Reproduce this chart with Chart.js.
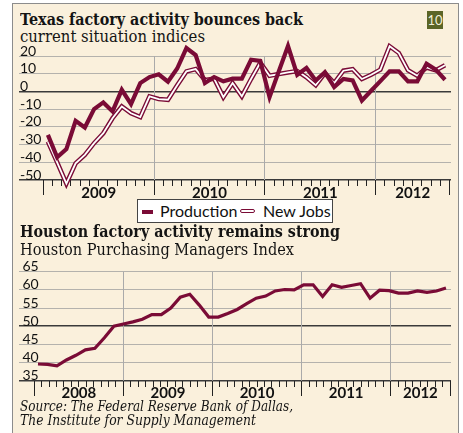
<!DOCTYPE html>
<html><head><meta charset="utf-8">
<script src="https://cdn.jsdelivr.net/npm/chart.js@4.4.1/dist/chart.umd.min.js"></script>
<style>
html,body{margin:0;padding:0;width:463px;height:433px;overflow:hidden;background:#fff;}
#panel{position:absolute;left:12px;top:3px;width:447px;height:445px;box-sizing:border-box;background:#faf0dc;border:1.5px solid #8c8c8c;}
.t{position:absolute;left:20px;white-space:nowrap;transform-origin:0 0;line-height:1;color:#141414;margin:0;}
.ttl{font-family:"DejaVu Serif";font-weight:bold;font-size:16px;}
.sub{font-family:"DejaVu Serif";font-size:16px;}
.src{font-family:"DejaVu Serif";font-style:italic;font-size:14px;}
canvas{position:absolute;left:0;}
#badge{position:absolute;left:427px;top:11px;width:16px;height:18px;background:#5b6527;color:#f3f0dc;font:13px Lato;text-align:center;line-height:18px;overflow:hidden;}
#legend{position:absolute;left:137px;top:199px;width:196px;height:24px;box-sizing:border-box;background:#fff;border:1px solid #444;font:16px Lato;color:#111;}
#legend .sym{position:absolute;}
#legend .lab{position:absolute;top:3px;line-height:16px;white-space:nowrap;}
</style></head>
<body>
<div id="panel"></div>
<div class="t ttl" style="top:11.5px" data-w="283">Texas factory activity bounces back</div>
<div class="t sub" style="top:28.5px" data-w="185">current situation indices</div>
<div id="badge">10</div>
<canvas id="c1" width="463" height="205" style="top:0"></canvas>
<div id="legend"></div>
<div class="t ttl" style="top:223.8px" data-w="320">Houston factory activity remains strong</div>
<div class="t sub" style="top:241.5px" data-w="274">Houston Purchasing Managers Index</div>
<canvas id="c2" width="463" height="193" style="top:240px"></canvas>
<div class="t src" style="top:399.2px" data-w="273">Source: The Federal Reserve Bank of Dallas,</div>
<div class="t src" style="top:412.5px" data-w="236">The Institute for Supply Management</div>
<script>
// ---- data ----
const seriesNames = ['Production', 'New Jobs'];
// Texas current situation indices, monthly Jan 2009 - Aug 2012
const production = [
  -24.5, -37.2, -32.6, -16.6, -20.4, -10.0, -6.2, -11.3, 0.9, -7.2, 4.7, 8.1,
  9.7, 5.5, 12.9, 24.5, 20.5, 4.7, 8.1, 5.7, 7.2, 7.2, 17.9, 17.2,
  -3.2, 11.3, 25.6, 9.4, 13.2, 6.2, 10.9, 2.5, 7.0, 6.2, -5.1, 0.4,
  5.8, 11.3, 11.3, 5.7, 5.7, 15.6, 12.3, 6.6
];
const newJobs = [
  -28.3, -40.0, -52.0, -40.6, -35.8, -29.2, -23.6, -15.1, -8.5, -12.3, -14.5, -2.8,
  -4.3, -4.7, 3.5, 11.3, 12.6, 6.4, 7.2, -3.2, 4.7, -2.8, 7.0, 16.2,
  8.9, 9.8, 10.7, 11.5, 8.0, 3.5, 10.4, 4.7, 11.7, 12.6, 7.0, 9.4,
  12.3, 25.5, 21.7, 11.9, 8.9, 13.5, 11.9, 14.8
];
const texasYTicks = [-50, -40, -30, -20, -10, 0, 10, 20];
const texasYears = ['2009', '2010', '2011', '2012'];
const texasMonthsPerYear = [12, 12, 12, 8];

// Houston Purchasing Managers Index (44 observations drawn across 2008 - Aug 2012)
const houstonPMI = [
  39.6, 39.5, 39.1, 40.7, 42.0, 43.5, 43.9, 46.8, 50.0, 50.6,
  51.2, 51.9, 53.2, 53.2, 55.0, 58.0, 58.8, 55.8, 52.5, 52.5,
  53.5, 54.6, 56.2, 57.7, 58.3, 59.7, 60.1, 60.0, 61.4, 61.4,
  58.2, 61.4, 60.7, 61.2, 61.7, 57.7, 59.9, 59.8, 59.1, 59.1,
  59.7, 59.3, 59.7, 60.5
];
const houstonYTicks = [35, 40, 45, 50, 55, 60, 65];
const houstonYears = ['2008', '2009', '2010', '2011', '2012'];
const houstonMonthsPerYear = [12, 12, 12, 12, 8];

// ---- styling ----
const MAROON = '#7a0b36';
const GRID = '#b4b2ad';
const DARK = '#3a3a3a';
const VGRID = '#aaaaaa';
Chart.defaults.font.family = 'Lato';
Chart.defaults.color = '#111';

function boundsOf(months) {
  const b = [0];
  months.forEach(m => b.push(b[b.length - 1] + m));
  return b;
}

function timeAxes(yVal, min, max, months, years, pad) {
  const bounds = boundsOf(months);
  const total = bounds[bounds.length - 1];
  const monthTicks = [];
  for (let i = 0; i <= total; i++) monthTicks.push(i);
  const mids = years.map((_, i) => (bounds[i] + bounds[i + 1]) / 2);
  const pos = { y: yVal };
  return {
    xMonth: {
      type: 'linear', axis: 'x', position: pos, min, max,
      afterBuildTicks: s => { s.ticks = monthTicks.map(v => ({ value: v })); },
      grid: { drawOnChartArea: false, tickLength: 6, tickColor: '#222', tickWidth: 1 },
      border: { display: false }, ticks: { display: false }
    },
    xYear: {
      type: 'linear', axis: 'x', position: pos, min, max,
      afterBuildTicks: s => { s.ticks = bounds.map(v => ({ value: v })); },
      grid: {
        drawOnChartArea: true, tickLength: 15, tickColor: '#222', tickWidth: 1, lineWidth: 1,
        color: ctx => (ctx.tick && ctx.tick.value > 0 && ctx.tick.value < total) ? VGRID : 'rgba(0,0,0,0)'
      },
      border: { display: false }, ticks: { display: false }
    },
    xLabel: {
      type: 'linear', axis: 'x', position: pos, min, max,
      afterBuildTicks: s => { s.ticks = mids.map(v => ({ value: v })); },
      grid: { display: false, drawTicks: false },
      border: { display: false },
      ticks: {
        autoSkip: false, maxRotation: 0, minRotation: 0, padding: pad,
        font: { family: 'Lato', size: 15, weight: 'bold' }, color: '#111',
        callback: (v, i) => years[i]
      }
    }
  };
}

function yAxis(min, max, tickVals, darkVals, pad) {
  return {
    type: 'linear', position: 'left', min, max,
    afterBuildTicks: s => { s.ticks = tickVals.map(v => ({ value: v })); },
    afterFit: s => { s.width = 0; },
    grid: {
      drawTicks: false,
      color: ctx => (ctx.tick && darkVals.includes(ctx.tick.value)) ? DARK : GRID,
      lineWidth: ctx => (ctx.tick && darkVals.includes(ctx.tick.value)) ? 1.5 : 1
    },
    border: { display: false },
    ticks: { autoSkip: false, mirror: true, padding: pad, labelOffset: -5, font: { family: 'Lato', size: 14 }, color: '#111' }
  };
}

const common = {
  responsive: false, animation: false, devicePixelRatio: 1,
  plugins: { legend: { display: false }, tooltip: { enabled: false } },
  elements: { point: { radius: 0 }, line: { tension: 0, borderCapStyle: 'butt', borderJoinStyle: 'miter' } }
};

// ---- Texas chart ----
const monthCentre = (v, i) => ({ x: i + 0.5, y: v });
new Chart(document.getElementById('c1'), {
  type: 'line',
  data: {
    datasets: [
      { label: seriesNames[0], data: production.map(monthCentre), borderColor: MAROON, borderWidth: 4.2, clip: false, order: 0, xAxisID: 'xMonth', yAxisID: 'y' },
      { label: seriesNames[1], data: newJobs.map(monthCentre), borderColor: '#ffffff', borderWidth: 1.8, clip: false, order: 1, xAxisID: 'xMonth', yAxisID: 'y' },
      { label: seriesNames[1] + ' outline', data: newJobs.map(monthCentre), borderColor: MAROON, borderWidth: 4.6, clip: false, order: 2, xAxisID: 'xMonth', yAxisID: 'y' }
    ]
  },
  options: Object.assign({}, common, {
    layout: { padding: { left: 19, right: 12, top: 56, bottom: 25 } },
    scales: Object.assign({ y: yAxis(-50, 20, texasYTicks, [0, -50], 1) },
      timeAxes(-50, -2.63, 44.15, texasMonthsPerYear, texasYears, 4))
  })
});

// ---- Houston chart ----
const obs = (v, i) => ({ x: i, y: v });
const houstonScales = Object.assign({ y: yAxis(35, 65, houstonYTicks, [50, 35], 3.5) },
  timeAxes(35, -2.06, 56.12, houstonMonthsPerYear, houstonYears, 3.6));
houstonScales.xData = { type: 'linear', axis: 'x', display: false, min: -2.0, max: 43.53 };
new Chart(document.getElementById('c2'), {
  type: 'line',
  data: {
    datasets: [
      { label: 'Houston PMI', data: houstonPMI.map(obs), borderColor: MAROON, borderWidth: 3.2, clip: false, xAxisID: 'xData', yAxisID: 'y' }
    ]
  },
  options: Object.assign({}, common, {
    layout: { padding: { left: 19, right: 12, top: 31.7, bottom: 52.3 } },
    scales: houstonScales
  })
});

// ---- legend (HTML, from series names) ----
const lg = document.getElementById('legend');
lg.innerHTML =
  '<div class="sym" style="left:4px;top:9.7px;width:11px;height:4px;background:' + MAROON + '"></div>' +
  '<div class="lab" style="left:22px">' + seriesNames[0] + '</div>' +
  '<div class="sym" style="left:102px;top:8.7px;width:13px;height:2px;background:#fff;border:1.5px solid ' + MAROON + ';border-radius:3px"></div>' +
  '<div class="lab" style="left:125px">' + seriesNames[1] + '</div>';

// fit title/source text widths
document.querySelectorAll('[data-w]').forEach(el => {
  const w = el.getBoundingClientRect().width;
  if (w > 0) el.style.transform = 'scaleX(' + (parseFloat(el.dataset.w) / w) + ')';
});
</script>
</body></html>
